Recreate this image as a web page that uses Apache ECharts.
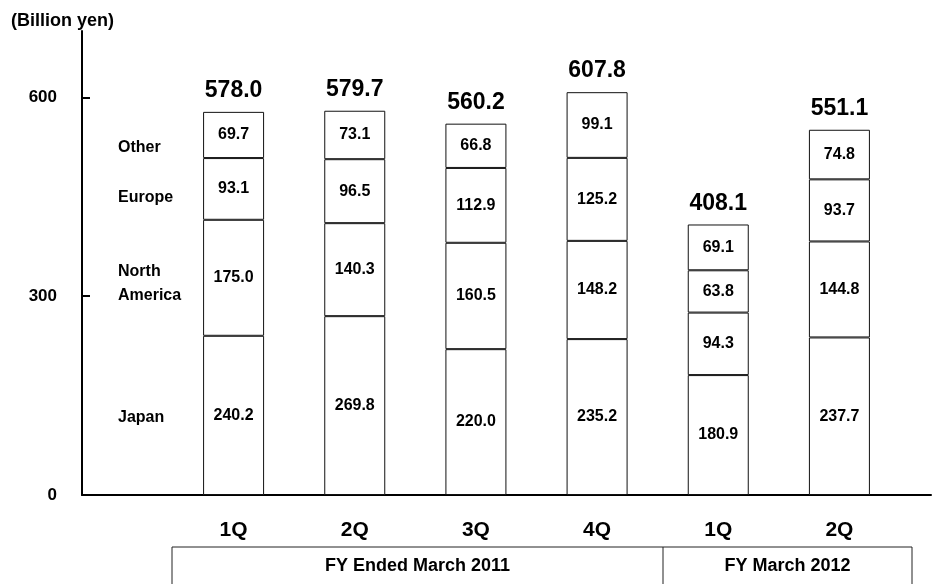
<!DOCTYPE html>
<html>
<head>
<meta charset="utf-8">
<script src="https://cdn.jsdelivr.net/npm/echarts@6/dist/echarts.min.js"></script>
<style>
  html, body { margin: 0; padding: 0; background: #fff; }
  #chart { width: 933px; height: 584px; }
</style>
</head>
<body>
<div id="chart"></div>
<script>
// Quarterly net sales by region (billion yen)
const quarters = ['1Q', '2Q', '3Q', '4Q', '1Q', '2Q'];
const japan = [240.2, 269.8, 220.0, 235.2, 180.9, 237.7];
const northAmerica = [175.0, 140.3, 160.5, 148.2, 94.3, 144.8];
const europe = [93.1, 96.5, 112.9, 125.2, 63.8, 93.7];
const other = [69.7, 73.1, 66.8, 99.1, 69.1, 74.8];
const totals = [578.0, 579.7, 560.2, 607.8, 408.1, 551.1];
const yTicks = [0, 300, 600];
const fiscalYears = ['FY Ended March 2011', 'FY March 2012'];
const regionNames = ['Other', 'Europe', 'North\nAmerica', 'Japan'];

const FONT = 'Arial, "Liberation Sans", sans-serif';
const Y_MAX = 700;

const chart = echarts.init(document.getElementById('chart'), null, { renderer: 'canvas' });

function segment(name, values) {
  return {
    name: name,
    type: 'bar',
    xAxisIndex: 1,
    yAxisIndex: 1,
    stack: 'sales',
    barWidth: 61,
    data: values,
    itemStyle: { color: '#ffffff', borderColor: '#111', borderWidth: 1 },
    label: {
      show: true,
      position: 'inside',
      formatter: p => p.value.toFixed(1),
      color: '#000',
      fontFamily: FONT,
      fontWeight: 'bold',
      fontSize: 16
    },
    emphasis: { disabled: true },
    silent: true
  };
}

const regionTextY = [148, 198, 284, 418];

const option = {
  animation: false,
  backgroundColor: '#ffffff',
  title: {
    text: '(Billion yen)',
    left: 6,
    top: 7,
    textStyle: { fontFamily: FONT, fontWeight: 'bold', fontSize: 18, color: '#000' }
  },
  grid: [
    { left: 82, right: 2, top: 31, bottom: 89 },
    { left: 173, right: 33, top: 31, bottom: 89 }
  ],
  xAxis: [
    {
      type: 'value', gridIndex: 0, min: 0, max: 1,
      axisLine: { show: true, lineStyle: { color: '#000', width: 2 } },
      axisTick: { show: false }, axisLabel: { show: false }, splitLine: { show: false }
    },
    {
      type: 'category', gridIndex: 1, data: quarters,
      axisLine: { show: false }, axisTick: { show: false },
      axisLabel: {
        margin: 25, color: '#000', fontFamily: FONT, fontWeight: 'bold', fontSize: 21
      }
    }
  ],
  yAxis: [
    {
      type: 'value', gridIndex: 0, min: 0, max: Y_MAX,
      axisLine: { show: true, lineStyle: { color: '#000', width: 2 } },
      axisTick: {
        show: true, inside: true, length: 8, customValues: yTicks,
        lineStyle: { color: '#000', width: 2 }
      },
      axisLabel: {
        customValues: yTicks, margin: 25, color: '#000',
        fontFamily: FONT, fontWeight: 'bold', fontSize: 17
      },
      splitLine: { show: false }
    },
    {
      type: 'value', gridIndex: 1, min: 0, max: Y_MAX, show: false
    }
  ],
  series: [
    segment('Japan', japan),
    segment('North America', northAmerica),
    segment('Europe', europe),
    segment('Other', other),
    {
      name: 'Total',
      type: 'scatter',
      xAxisIndex: 1,
      yAxisIndex: 1,
      symbol: 'rect',
      symbolSize: [1, 1],
      itemStyle: { color: 'rgba(255,255,255,0)', opacity: 1 },
      data: totals,
      label: {
        show: true,
        position: 'top',
        distance: 9,
        formatter: p => p.value.toFixed(1),
        color: '#000000',
        opacity: 1,
        textBorderWidth: 0,
        fontFamily: FONT,
        fontWeight: 'bold',
        fontSize: 23
      },
      emphasis: { disabled: true },
      silent: true
    }
  ],
  graphic: [
    // region names beside the first bar
    ...regionNames.map((name, i) => ({
      type: 'text',
      left: 118,
      top: regionTextY[i] - (name.includes('\n') ? 24 : 12),
      style: {
        text: name,
        fill: '#000',
        font: 'bold 16px ' + FONT,
        lineHeight: 24,
        verticalAlign: 'top'
      }
    })),
    // fiscal year table under the quarter labels
    {
      type: 'rect',
      shape: { x: 172, y: 547, width: 740, height: 60 },
      style: { fill: 'none', stroke: '#222', lineWidth: 1 }
    },
    {
      type: 'line',
      shape: { x1: 663, y1: 547, x2: 663, y2: 600 },
      style: { stroke: '#222', lineWidth: 1 }
    },
    {
      type: 'text',
      x: 417.5, y: 566,
      style: {
        text: fiscalYears[0], fill: '#000', font: 'bold 18px ' + FONT,
        align: 'center', verticalAlign: 'middle'
      }
    },
    {
      type: 'text',
      x: 787.5, y: 566,
      style: {
        text: fiscalYears[1], fill: '#000', font: 'bold 18px ' + FONT,
        align: 'center', verticalAlign: 'middle'
      }
    }
  ]
};

chart.setOption(option);
</script>
</body>
</html>
